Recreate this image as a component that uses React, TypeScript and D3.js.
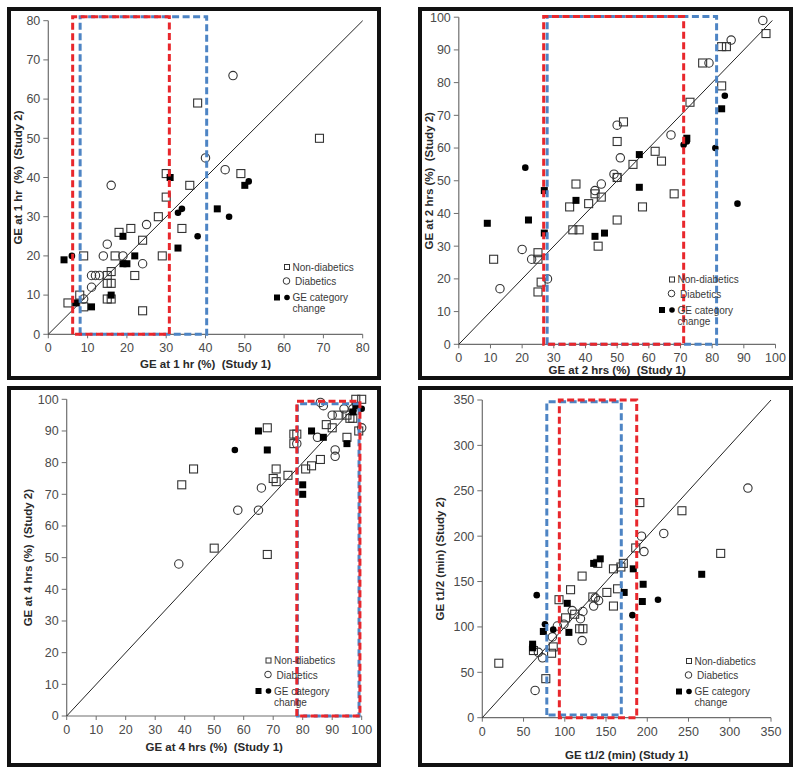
import React from "react";
import * as d3 from "d3";

type Pt = [number, number];

// ---------- Panel 1: GE at 1 hr ----------
const p1NonDiab: Pt[] = [[5,8],[8,10],[9,20],[9,7],[15,15],[15,13],[15,9],[16,16],[16,13],[16,9],[17,20],[18,26],[21,27],[22,15],[24,24],[24,6],[28,30],[29,20],[30,41],[30,35],[34,27],[36,38],[38,59],[49,41],[69,50]];
const p1Diab: Pt[] = [[9,9],[11,15],[11,12],[12,15],[13,15],[14,20],[15,23],[16,38],[19,20],[24,18],[25,28],[40,45],[45,42],[47,66]];
const p1ChangeSq: Pt[] = [[4,19],[7,8],[11,7],[16,10],[19,25],[19,18],[20,18],[22,20],[31,40],[33,22],[43,32],[50,38]];
const p1ChangeCirc: Pt[] = [[6,20],[33,31],[34,32],[38,25],[46,30],[51,39]];
const p1RedBox = [6.2, 30.8, 0, 81];
const p1BlueBox = [8.1, 40.3, 0, 81];

// ---------- Panel 2: GE at 2 hrs ----------
const p2NonDiab: Pt[] = [[11,26],[25,28],[25,26],[26,19],[25,16],[35,42],[37,49],[36,35],[38,35],[41,43],[43,46],[45,45],[44,30],[50,38],[50,62],[50,51],[52,68],[55,55],[58,42],[62,59],[64,56],[68,46],[73,74],[77,86],[83,91],[84.5,91],[83,79],[97,95]];
const p2Diab: Pt[] = [[13,17],[20,29],[23,26],[28,20],[43,47],[45,49],[49,52],[50,67],[51,57],[50,51],[67,64],[79,86],[86,93],[96,99]];
const p2ChangeSq: Pt[] = [[9,37],[22,38],[27,47],[27,34],[37,44],[43,33],[46,34],[57,58],[57,48],[72,63],[83,72]];
const p2ChangeCirc: Pt[] = [[21,54],[71,61],[72,62],[81,60],[84,76],[88,43]];
const p2RedBox = [26.8, 71, 0, 100.2];
const p2BlueBox = [27.9, 81.4, 0, 100.2];

// ---------- Panel 3: GE at 4 hrs ----------
const p3NonDiab: Pt[] = [[39,73],[43,78],[50,53],[68,91],[68,51],[70,75],[71,78],[71,74],[75,76],[77,89],[77,86],[78,89],[81,78],[83,79],[86,81],[88,92],[90,91],[92,95],[95,95],[95,88],[96,94],[97,94],[98,100],[100,100],[99,90]];
const p3Diab: Pt[] = [[38,48],[58,65],[65,65],[66,72],[78,86],[85,88],[86,99],[87,98],[90,95],[91,84],[91,82],[94,97],[97,97],[100,91]];
const p3ChangeSq: Pt[] = [[65,90],[68,84],[80,73],[80,70],[83,90],[87,88],[95,86],[97,96],[98,98]];
const p3ChangeCirc: Pt[] = [[57,84],[100,97]];
const p3RedBox = [78, 99.4, 0, 99.4];
const p3BlueBox = [78.2, 99.1, 0, 98.6];

// ---------- Panel 4: GE t1/2 ----------
const p4NonDiab: Pt[] = [[20,60],[62,74],[77,43],[84,71],[86,78],[93,130],[101,110],[107,141],[112,114],[118,98],[122,98],[121,156],[134,133],[140,170],[151,138],[159,123],[159,164],[164,142],[168,166],[171,170],[191,237],[186,187],[242,228],[289,181]];
const p4Diab: Pt[] = [[64,30],[68,72],[73,66],[85,89],[91,101],[99,103],[109,118],[119,109],[121,85],[122,117],[135,123],[137,132],[141,129],[193,200],[196,183],[220,203],[322,253]];
const p4ChangeSq: Pt[] = [[61,81],[61,77],[74,95],[103,126],[105,94],[135,170],[143,175],[183,164],[172,138],[195,147],[194,128],[266,158]];
const p4ChangeCirc: Pt[] = [[66,135],[76,103],[86,97],[182,113],[213,130]];
const p4RedBox = [93.4, 187.2, 0, 350];
const p4BlueBox = [78.2, 168.5, 3, 348];

// ---------- text ----------
const xTitles = ["GE at 1 hr (%)  (Study 1)", "GE at 2 hrs (%)  (Study 1)", "GE at 4 hrs (%)  (Study 1)", "GE t1/2 (min) (Study 1)"];
const yTitles = ["GE at 1 hr  (%)  (Study 2)", "GE at 2 hrs (%)  (Study 2)", "GE at 4 hrs (%)  (Study 2)", "GE t1/2 (min) (Study 2)"];
const axisMax = [80, 100, 100, 350];
const tickStep = [10, 10, 10, 50];
const diagEnd = [80, 99, 98, 350];
const legendLabels = ["Non-diabetics", "Diabetics", "GE category", "change"];

// ---------- layout ----------
const layouts = [
  { frame: [9, 9, 370, 369], xr: [48.3, 362.7], yr: [334.3, 20.7], yTitleX: 18, xTitleY: 364, lx: 287, ly: 267 },
  { frame: [420, 9, 371, 369], xr: [458.8, 775.5], yr: [344.3, 17.2], yTitleX: 429, xTitleY: 370, lx: 672, ly: 279.5 },
  { frame: [9, 388, 370, 377], xr: [66.7, 361.7], yr: [716, 399.3], yTitleX: 28, xTitleY: 747, lx: 268.5, ly: 660.5 },
  { frame: [420, 388, 371, 377], xr: [482.3, 771], yr: [717.7, 400], yTitleX: 440, xTitleY: 755, lx: 689, ly: 661 },
];

const panelsData = [
  { non: p1NonDiab, diab: p1Diab, cs: p1ChangeSq, cc: p1ChangeCirc, red: p1RedBox, blue: p1BlueBox },
  { non: p2NonDiab, diab: p2Diab, cs: p2ChangeSq, cc: p2ChangeCirc, red: p2RedBox, blue: p2BlueBox },
  { non: p3NonDiab, diab: p3Diab, cs: p3ChangeSq, cc: p3ChangeCirc, red: p3RedBox, blue: p3BlueBox },
  { non: p4NonDiab, diab: p4Diab, cs: p4ChangeSq, cc: p4ChangeCirc, red: p4RedBox, blue: p4BlueBox },
];

const FONT = "'Liberation Sans', Arial, sans-serif";
const RED = "#e8272c";
const BLUE = "#4d84c4";
const AXIS = "#6e6e6e";
const TICKTXT = "#4a4a4a";

function Panel({ i }: { i: number }) {
  const L = layouts[i];
  const D = panelsData[i];
  const max = axisMax[i];
  const x = d3.scaleLinear().domain([0, max]).range(L.xr);
  const y = d3.scaleLinear().domain([0, max]).range(L.yr);
  const ticks = d3.range(0, max + 0.001, tickStep[i]);
  const [fx, fy, fw, fh] = L.frame;
  const line = d3.line<Pt>().x((d) => x(d[0])).y((d) => y(d[1]));
  const box = (b: number[]) =>
    `M${x(b[0])},${y(b[2])}L${x(b[0])},${y(b[3])}L${x(b[1])},${y(b[3])}L${x(b[1])},${y(b[2])}Z`;
  const yc = (L.yr[0] + L.yr[1]) / 2;
  const xc = (L.xr[0] + L.xr[1]) / 2;
  const sq = 8;
  const fsq = 7;
  return (
    <g>
      <rect x={fx} y={fy} width={fw} height={fh} fill="white" stroke="#111" strokeWidth={4} />
      {/* axes */}
      <line x1={L.xr[0]} x2={L.xr[1]} y1={L.yr[0]} y2={L.yr[0]} stroke={AXIS} strokeWidth={1.2} />
      <line x1={L.xr[0]} x2={L.xr[0]} y1={L.yr[0]} y2={L.yr[1]} stroke={AXIS} strokeWidth={1.2} />
      {ticks.map((t) => (
        <g key={"t" + t}>
          <line x1={L.xr[0] - 5} x2={L.xr[0]} y1={y(t)} y2={y(t)} stroke={AXIS} strokeWidth={1} />
          <line x1={x(t)} x2={x(t)} y1={L.yr[0]} y2={L.yr[0] + 4} stroke={AXIS} strokeWidth={1} />
          <text x={L.xr[0] - 8} y={y(t)} dy="0.35em" textAnchor="end" fontSize={12.5} fill={TICKTXT} fontFamily={FONT}>{t}</text>
          <text x={x(t)} y={L.yr[0] + 18} textAnchor="middle" fontSize={12.5} fill={TICKTXT} fontFamily={FONT}>{t}</text>
        </g>
      ))}
      <text x={xc} y={L.xTitleY} dy="0.35em" textAnchor="middle" fontSize={11.5} fontWeight="bold" fill="#2a2a2a" fontFamily={FONT} style={{ whiteSpace: "pre" }}>{xTitles[i]}</text>
      <text transform={`translate(${L.yTitleX},${yc}) rotate(-90)`} dy="0.35em" textAnchor="middle" fontSize={11.5} fontWeight="bold" fill="#2a2a2a" fontFamily={FONT} style={{ whiteSpace: "pre" }}>{yTitles[i]}</text>
      {/* diagonal */}
      <path d={line([[0, 0], [diagEnd[i], diagEnd[i]]]) || ""} stroke="#222" strokeWidth={1} fill="none" />
      {/* points */}
      {D.non.map((p, k) => (
        <rect key={"n" + k} x={x(p[0]) - sq / 2} y={y(p[1]) - sq / 2} width={sq} height={sq} fill="none" stroke="#333" strokeWidth={1.1} />
      ))}
      {D.diab.map((p, k) => (
        <circle key={"d" + k} cx={x(p[0])} cy={y(p[1])} r={4.2} fill="none" stroke="#333" strokeWidth={1.1} />
      ))}
      {D.cs.map((p, k) => (
        <rect key={"s" + k} x={x(p[0]) - fsq / 2} y={y(p[1]) - fsq / 2} width={fsq} height={fsq} fill="#000" />
      ))}
      {D.cc.map((p, k) => (
        <circle key={"c" + k} cx={x(p[0])} cy={y(p[1])} r={3.3} fill="#000" />
      ))}
      {/* boxes */}
      <path d={box(D.blue)} fill="none" stroke={BLUE} strokeWidth={3} strokeDasharray="7,3.5" />
      <path d={box(D.red)} fill="none" stroke={RED} strokeWidth={3} strokeDasharray="7,3.5" />
      {/* legend */}
      <g fontFamily={FONT} fontSize={10} fill="#3a3a3a">
        <rect x={L.lx - 2.5} y={L.ly - 2.5} width={5} height={5} fill="none" stroke="#333" strokeWidth={1} />
        <text x={L.lx + 5.5} y={L.ly} dy="0.35em">{legendLabels[0]}</text>
        <circle cx={L.lx - 0.5} cy={L.ly + 14} r={3.3} fill="none" stroke="#333" strokeWidth={1} />
        <text x={L.lx + 8} y={L.ly + 14.5} dy="0.35em">{legendLabels[1]}</text>
        <rect x={L.lx - 13} y={L.ly + 27.5} width={6} height={6} fill="#000" />
        <circle cx={L.lx} cy={L.ly + 30.5} r={2.8} fill="#000" />
        <text x={L.lx + 5.5} y={L.ly + 30.5} dy="0.35em">{legendLabels[2]}</text>
        <text x={L.lx + 5.5} y={L.ly + 41.5} dy="0.35em">{legendLabels[3]}</text>
      </g>
    </g>
  );
}

export default function App() {
  return (
    <svg width={800} height={775} style={{ position: "absolute", left: 0, top: 0, background: "white" }}>
      <rect x={0} y={0} width={800} height={775} fill="white" />
      {[0, 1, 2, 3].map((i) => (
        <Panel key={i} i={i} />
      ))}
    </svg>
  );
}
